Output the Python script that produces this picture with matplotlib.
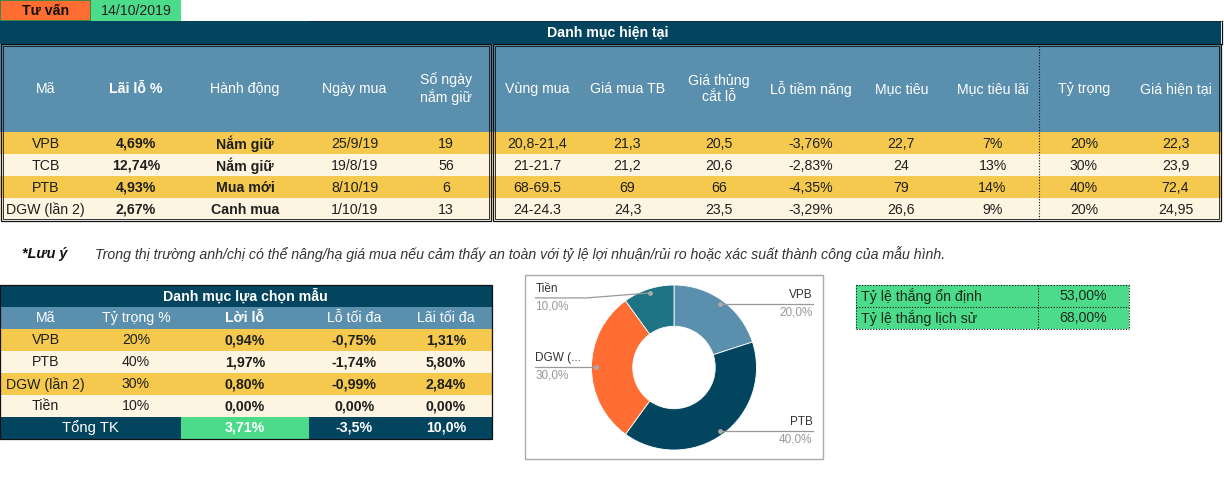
import matplotlib.pyplot as plt
from matplotlib.patches import Rectangle
import numpy as np

plt.rcParams['font.family'] = ['Liberation Sans', 'DejaVu Sans']

# ---- data ----
advice_label = "Tư vấn"
advice_date = "14/10/2019"

cur_title = "Danh mục hiện tại"
cur_headers = ["Mã", "Lãi lỗ %", "Hành động", "Ngày mua", "Số ngày\nnắm giữ",
               "Vùng mua", "Giá mua TB", "Giá thủng\ncắt lỗ", "Lỗ tiềm năng",
               "Mục tiêu", "Mục tiêu lãi", "Tỷ trọng", "Giá hiện tại"]
cur_codes = ["VPB", "TCB", "PTB", "DGW (lần 2)"]
cur_pnl = ["4,69%", "12,74%", "4,93%", "2,67%"]
cur_action = ["Nắm giữ", "Nắm giữ", "Mua mới", "Canh mua"]
cur_buy_date = ["25/9/19", "19/8/19", "8/10/19", "1/10/19"]
cur_days_held = [19, 56, 6, 13]
cur_buy_zone = ["20,8-21,4", "21-21.7", "68-69.5", "24-24.3"]
cur_avg_price = ["21,3", "21,2", "69", "24,3"]
cur_stop = ["20,5", "20,6", "66", "23,5"]
cur_pot_loss = ["-3,76%", "-2,83%", "-4,35%", "-3,29%"]
cur_target = ["22,7", "24", "79", "26,6"]
cur_target_gain = ["7%", "13%", "14%", "9%"]
cur_weight = [20, 30, 40, 20]
cur_price = ["22,3", "23,9", "72,4", "24,95"]

note_head = "*Lưu ý"
note_text = ("Trong thị trường anh/chị có thể nâng/hạ giá mua nếu cảm thấy an toàn với "
             "tỷ lệ lợi nhuận/rủi ro hoặc xác suất thành công của mẫu hình.")

sample_title = "Danh mục lựa chọn mẫu"
sample_headers = ["Mã", "Tỷ trọng %", "Lời lỗ", "Lỗ tối đa", "Lãi tối đa"]
sample_codes = ["VPB", "PTB", "DGW (lần 2)", "Tiền"]
sample_weights = [20, 40, 30, 10]
sample_pnl = ["0,94%", "1,97%", "0,80%", "0,00%"]
sample_max_loss = ["-0,75%", "-1,74%", "-0,99%", "0,00%"]
sample_max_gain = ["1,31%", "5,80%", "2,84%", "0,00%"]
sample_total = ["Tổng TK", "3,71%", "-3,5%", "10,0%"]

win_labels = ["Tỷ lệ thắng ổn định", "Tỷ lệ thắng lịch sử"]
win_values = ["53,00%", "68,00%"]

# ---- colours ----
NAVY = "#03445f"
STEEL = "#5b8fae"
GOLD = "#f5c94d"
CREAM = "#fdf5e1"
GREEN = "#4cdb8b"
ORANGE = "#ff6d33"
TEAL = "#1e7384"
TXT = "#1f1f1f"

fig = plt.figure(figsize=(12.24, 4.84), dpi=100)
ax = fig.add_axes([0, 0, 1, 1])
ax.set_xlim(0, 1224)
ax.set_ylim(484, 0)
ax.axis("off")

FS = 10.2


def rect(x0, y0, x1, y1, fc, ec="none", lw=0, ls="-", z=1):
    ax.add_patch(Rectangle((x0, y0), x1 - x0, y1 - y0, facecolor=fc,
                           edgecolor=ec, linewidth=lw, linestyle=ls, zorder=z))


def txt(x, y, s, bold=False, color=TXT, size=FS, ha="center", style="normal"):
    ax.text(x, y, s, ha=ha, va="center", fontsize=size, color=color,
            fontweight="bold" if bold else "normal", fontstyle=style, zorder=5,
            linespacing=1.15)


edges = [0, 91, 181, 309, 400, 492, 582, 673, 765, 856, 947, 1038, 1130, 1221]
centers = [(a + b) / 2 for a, b in zip(edges[:-1], edges[1:])]

# ---- advice cell ----
rect(0, 0, 91, 21, ORANGE, ec="#1f8a4c", lw=1.2)
rect(91, 0, 181, 21, GREEN)
txt(centers[0], 11, advice_label, bold=True, color="#111111")
txt(centers[1], 11, advice_date, color="#222222")

# ---- current portfolio ----
rect(0, 21, 1221, 44, NAVY)
ax.plot([309, 1221], [21, 21], color="#222222", lw=0.8, ls=(0, (1, 1)), zorder=3)
txt(608, 33, cur_title, bold=True, color="white")
rect(0, 44, 1221, 132, STEEL)
row_top = 132
rh = 22
for i in range(len(cur_codes)):
    rect(0, row_top + i * rh, 1221, row_top + (i + 1) * rh, GOLD if i % 2 == 0 else CREAM)

for j, h in enumerate(cur_headers):
    txt(centers[j], 89, h, bold=(j == 1), color="white")

columns = [cur_codes, cur_pnl, cur_action, cur_buy_date, [str(d) for d in cur_days_held],
           cur_buy_zone, cur_avg_price, cur_stop, cur_pot_loss, cur_target,
           cur_target_gain, [f"{w}%" for w in cur_weight], cur_price]
for j, col in enumerate(columns):
    for i, v in enumerate(col):
        txt(centers[j], row_top + i * rh + rh / 2 + 0.5, v, bold=(j in (1, 2)))

# double borders
for (x0, x1) in [(1, 491), (493, 1221)]:
    rect(x0, 44, x1, 221, "none", ec="#111111", lw=0.9, z=4)
    rect(x0 + 2, 46, x1 - 2, 219, "none", ec="#111111", lw=0.6, z=4)
ax.plot([1039, 1039], [46, 219], color="#111111", lw=0.8, ls=(0, (1, 1.5)), zorder=4)
ax.plot([1222, 1222], [21, 44], color="#111111", lw=0.9, zorder=4)

# ---- note ----
txt(22, 254, note_head, bold=True, style="italic", ha="left", size=10.4, color="#111111")
txt(95, 254, note_text, style="italic", ha="left", size=10.2, color="#333333")

# ---- sample portfolio table ----
st = 285
rect(0, st, 492, st + rh, NAVY)
txt(245, st + rh / 2, sample_title, bold=True, color="white")
rect(0, st + rh, 492, st + 2 * rh, STEEL)
for j, h in enumerate(sample_headers):
    txt(centers[j], st + 1.5 * rh, h, bold=(j == 2), color="white")
scols = [sample_codes, [f"{w}%" for w in sample_weights], sample_pnl, sample_max_loss, sample_max_gain]
for i in range(len(sample_codes)):
    y0 = st + (i + 2) * rh
    rect(0, y0, 492, y0 + rh, GOLD if i % 2 == 0 else CREAM)
    for j, col in enumerate(scols):
        txt(centers[j], y0 + rh / 2 + 0.5, col[i], bold=(j >= 2))
yt = st + 6 * rh
rect(0, yt, 492, yt + rh, NAVY)
rect(181, yt, 309, yt + rh, GREEN)
txt(90, yt + rh / 2, sample_total[0], color="white", size=10.7)
for j, v in zip([2, 3, 4], sample_total[1:]):
    txt(centers[j], yt + rh / 2, v, bold=True, color="white")
rect(0, st, 492, yt + rh, "none", ec="#111111", lw=0.9, z=4)

# ---- win-rate table ----
for i, (lab, val) in enumerate(zip(win_labels, win_values)):
    y0 = st + i * rh
    rect(856, y0, 1129, y0 + rh, GREEN)
    txt(861, y0 + rh / 2, lab, ha="left", color="#1a2a1a")
    txt(1083, y0 + rh / 2, val, color="#1a2a1a")
for y in [st, st + rh, st + 2 * rh]:
    ax.plot([856, 1129], [y, y], color="#111111", lw=0.8, ls=(0, (1, 1.5)), zorder=4)
for x in [856, 1038, 1129]:
    ax.plot([x, x], [st, st + 2 * rh], color="#111111", lw=0.8, ls=(0, (1, 1.5)), zorder=4)

# ---- donut chart ----
rect(525, 275, 823, 459, "white", ec="#aaaaaa", lw=1.0, z=2)
cx, cy, r = 674, 367.5, 82.5
pax = fig.add_axes([(cx - r) / 1224, (484 - cy - r) / 484, 2 * r / 1224, 2 * r / 484])
wedges, _ = pax.pie(sample_weights, startangle=90, counterclock=False,
                    colors=[STEEL, NAVY, ORANGE, TEAL],
                    wedgeprops=dict(width=0.5, edgecolor="white", linewidth=0.6))
pax.set_xlim(-1, 1)
pax.set_ylim(-1, 1)
pax.set_aspect("auto")
pax.axis("off")

side = 1.68
for w, name, val in zip(wedges, sample_codes, sample_weights):
    mid = np.deg2rad((w.theta1 + w.theta2) / 2)
    dx, dy = 0.95 * np.cos(mid), 0.95 * np.sin(mid)
    sx = side if dx > 0 else -side
    ly = dy if abs(dx) > 0.5 else dy - 0.06
    xs = [dx, sx * 0.63, sx] if abs(dx) <= 0.5 else [dx, sx]
    ys = [dy, ly, ly] if abs(dx) <= 0.5 else [dy, ly]
    pax.plot(xs, ys, color="#999999", lw=0.9, clip_on=False)
    pax.plot([dx], [dy], "o", color="#aaaaaa", ms=2.5, clip_on=False)
    label = name if len(name) <= 6 else name[:5] + "..."
    ha = "right" if sx > 0 else "left"
    pax.text(sx, ly + 0.04, label, ha=ha, va="bottom", fontsize=8.5, color="#333333")
    pax.text(sx, ly - 0.03, f"{val:.1f}%".replace(".", ","), ha=ha, va="top",
             fontsize=8.5, color="#999999")

fig.savefig("out.png", dpi=100)
